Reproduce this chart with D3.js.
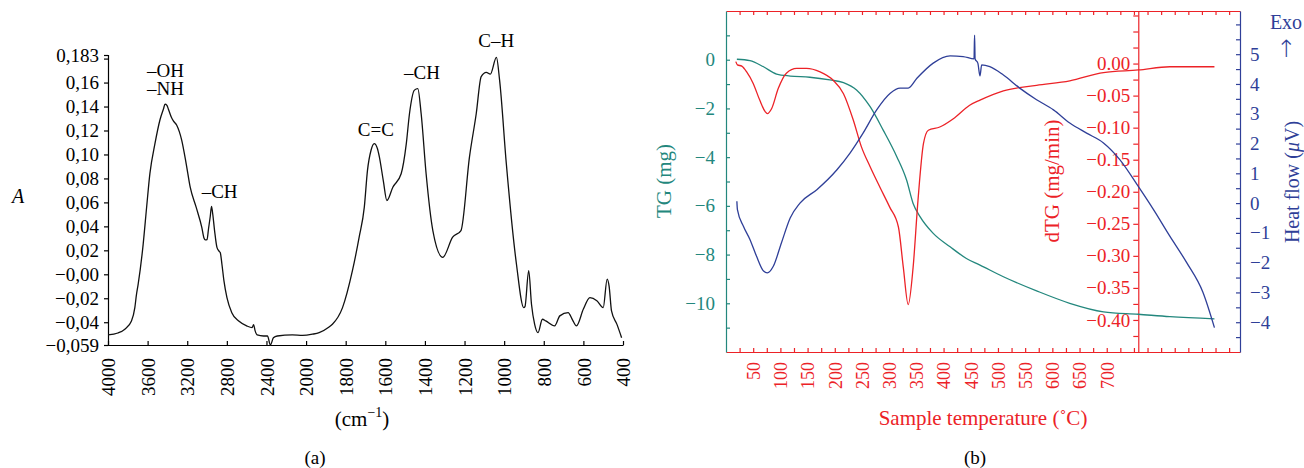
<!DOCTYPE html>
<html>
<head>
<meta charset="utf-8">
<script src="https://cdn.jsdelivr.net/npm/d3@7"></script>
<style>
body { margin: 0; background: #fff; }
svg { display: block; font-family: "Liberation Serif", "Times New Roman", serif; }
</style>
</head>
<body>
<svg id="chart" width="1304" height="468"></svg>
<script>
/* (a) FTIR spectrum */
var ftir_wavenumber = [4000, 3900, 3830, 3763, 3729, 3712, 3695, 3645, 3610, 3577, 3526, 3475, 3440, 3424, 3405,
    3391, 3360, 3340, 3306, 3256, 3210, 3170, 3110, 3053, 3030, 3018, 3000, 2985, 2968, 2955, 2945, 2924, 2900,
    2875, 2866, 2850, 2830, 2799, 2750, 2680, 2600, 2545, 2530, 2515, 2494, 2430, 2390, 2360, 2330, 2291, 2139,
    2035, 1968, 1934, 1884, 1867, 1816, 1766, 1732, 1706, 1690, 1672, 1656, 1640, 1630, 1610, 1592, 1562, 1520,
    1494, 1478, 1453, 1436, 1419, 1394, 1360, 1310, 1260, 1218, 1175, 1141, 1116, 1090, 1070, 1039, 1023, 989,
    938, 901, 895, 876, 862, 846, 829, 807, 790, 745, 719, 677, 655, 635, 600, 567, 532, 500, 480, 470, 458, 430, 407];
var ftir_absorbance = [-0.0506, -0.0490, -0.0458, -0.0390, -0.0278, -0.0165, -0.0080, 0.0250, 0.0560, 0.0840,
    0.1090, 0.1290, 0.1380, 0.1420, 0.1410, 0.1380, 0.1310, 0.1280, 0.1244, 0.1120, 0.0920, 0.0727, 0.0560,
    0.0392, 0.0300, 0.0287, 0.0290, 0.0380, 0.0480, 0.0566, 0.0520, 0.0365, 0.0225, 0.0190, 0.0180, 0.0086,
    -0.0050, -0.0194, -0.0320, -0.0390, -0.0430, -0.0445, -0.0420, -0.0470, -0.0506, -0.0515, -0.0515, -0.0590,
    -0.0530, -0.0515, -0.0506, -0.0510, -0.0500, -0.0487, -0.0440, -0.0417, -0.0278, 0.0030, 0.0310, 0.0560,
    0.0867, 0.1035, 0.1090, 0.1050, 0.0980, 0.0780, 0.0616, 0.0727, 0.0839, 0.1090, 0.1340, 0.1537, 0.1550,
    0.1340, 0.0839, 0.0365, 0.0142, 0.0310, 0.0365, 0.0980, 0.1340, 0.1650, 0.1685, 0.1670, 0.1810, 0.1620,
    0.0922, 0.0086, -0.0278, -0.0270, 0.0030, -0.0250, -0.0417, -0.0487, -0.0375, -0.0389, -0.0430, -0.0347,
    -0.0320, -0.0380, -0.0430, -0.0290, -0.0194, -0.0220, -0.0278, -0.0040, -0.0100, -0.0306, -0.0420, -0.0529];
var wn_ticks = [4000, 3600, 3200, 2800, 2400, 2000, 1800, 1600, 1400, 1200, 1000, 800, 600, 400];
var abs_ticks = [-0.059, -0.04, -0.02, 0, 0.02, 0.04, 0.06, 0.08, 0.10, 0.12, 0.14, 0.16, 0.18, 0.183];
var abs_tick_labels = ["\u22120,059", "\u22120,04", "\u22120,02", "\u22120,00", "0,02", "0,04", "0,06", "0,08",
    "0,10", "0,12", "0,14", "0,16", "", "0,183"];
var peak_names = ["\u2013OH", "\u2013NH", "\u2013CH", "C=C", "\u2013CH", "C\u2013H"];
var peak_wn = [3420, 3420, 2873, 1648, 1415, 1040];
var peak_abs = [0.1650, 0.1495, 0.0633, 0.1152, 0.1630, 0.1897];

/* (b) thermal analysis */
var tg_temp = [20, 44, 69, 93, 118, 154, 191, 216, 240, 265, 289, 314, 332, 344, 357, 381, 412, 442, 467, 510,
    571, 632, 694, 758, 816, 898];
var tg_mass = [0.02, -0.04, -0.29, -0.59, -0.67, -0.72, -0.83, -0.94, -1.24, -1.93, -2.89, -3.98, -4.94, -5.9,
    -6.45, -7.13, -7.68, -8.16, -8.43, -8.91, -9.49, -10.0, -10.35, -10.45, -10.55, -10.64];
var dtg_temp = [18, 21, 29, 38, 50, 62, 72, 76, 84, 96, 111, 130, 148, 173, 197, 216, 234, 249, 265, 283, 301,
    317, 326, 335, 344, 353, 363, 372, 393, 418, 448, 467, 510, 571, 632, 694, 758, 816, 898];
var dtg_rate = [0.003, -0.002, -0.004, -0.013, -0.031, -0.057, -0.075, -0.078, -0.070, -0.039, -0.015, -0.0075,
    -0.0075, -0.013, -0.026, -0.047, -0.088, -0.13, -0.161, -0.193, -0.224, -0.255, -0.318, -0.376, -0.318,
    -0.213, -0.125, -0.104, -0.099, -0.086, -0.065, -0.057, -0.0425, -0.034, -0.027, -0.014, -0.010, -0.005, -0.005];
var hf_temp = [20, 21, 32, 44, 56, 69, 76, 87, 102, 118, 136, 167, 204, 228, 252, 277, 302, 320, 335, 351, 381,
    412, 436, 456, 457, 458, 463, 467, 470, 485, 510, 540, 571, 602, 632, 663, 694, 724, 758, 786, 816, 847, 877, 898];
var hf_signal = [0.06, -0.22, -0.78, -1.22, -1.78, -2.28, -2.34, -2.12, -1.33, -0.5, 0.0, 0.45, 1.12, 1.68, 2.35,
    3.13, 3.69, 3.86, 3.86, 4.19, 4.70, 4.94, 4.92, 4.84, 5.64, 4.84, 4.70, 4.27, 4.64, 4.58, 4.30, 3.86, 3.47,
    3.13, 2.69, 2.35, 2.02, 1.46, 0.56, -0.22, -1.11, -2.0, -3.0, -4.18];
var temp_labels = [50, 100, 150, 200, 250, 300, 350, 400, 450, 500, 550, 600, 650, 700];
var tg_labels = [0, -2, -4, -6, -8, -10];
var dtg_labels = [0, -0.05, -0.10, -0.15, -0.20, -0.25, -0.30, -0.35, -0.40];
var hf_labels = [5, 4, 3, 2, 1, 0, -1, -2, -3, -4];
var dtg_axis_temp = 758;

var teal = "#23877d";
var red = "#ec2227";
var blue = "#2f3f98";

var svg = d3.select("#chart");
svg.append("rect").attr("width", 1304).attr("height", 468).attr("fill", "#fff");

function style_axis(g, colour, size) {
    g.attr("font-family", null).attr("font-size", size);
    g.selectAll("path, line").attr("stroke", colour).attr("stroke-width", 1.2);
    g.selectAll("text").attr("fill", colour);
}

/* ---------- panel (a) ---------- */
var ftir_step = (623 - 108) / 13;
var xA = d3.scaleLinear().domain([4000, 2000, 400]).range([108, 108 + 5 * ftir_step, 623]);
var yA = d3.scaleLinear().domain([-0.059, 0.183]).range([345, 55]);

var ax_left = svg.append("g").attr("transform", "translate(108,0)")
    .call(d3.axisLeft(yA).tickValues(abs_ticks).tickSizeOuter(0).tickSize(4).tickPadding(5)
        .tickFormat(function (d, i) { return abs_tick_labels[i]; }));
style_axis(ax_left, "#000", 19);

var ax_bottom = svg.append("g").attr("transform", "translate(0,345)")
    .call(d3.axisBottom(xA).tickValues(wn_ticks).tickSizeInner(-4).tickSizeOuter(0).tickFormat(d3.format("d")));
style_axis(ax_bottom, "#000", 19);
ax_bottom.selectAll("text").attr("transform", "rotate(-90)").attr("x", -13).attr("y", 0)
    .attr("dy", "0.35em").attr("text-anchor", "end");

var ftir_line = d3.line()
    .x(function (d) { return xA(ftir_wavenumber[d]); })
    .y(function (d) { return yA(ftir_absorbance[d]); })
    .curve(d3.curveMonotoneX);
svg.append("path").datum(d3.range(ftir_wavenumber.length)).attr("d", ftir_line)
    .attr("fill", "none").attr("stroke", "#111").attr("stroke-width", 1.3);

svg.selectAll("text.peak").data(peak_names).enter().append("text").attr("class", "peak")
    .attr("x", function (d, i) { return xA(peak_wn[i]); })
    .attr("y", function (d, i) { return yA(peak_abs[i]); })
    .attr("text-anchor", "middle").attr("font-size", 19).text(function (d) { return d; });

svg.append("text").attr("x", 18).attr("y", 203).attr("font-size", 20).attr("font-style", "italic")
    .attr("text-anchor", "middle").text("A");
var cm = svg.append("text").attr("x", 362).attr("y", 426).attr("font-size", 21).attr("text-anchor", "middle");
cm.append("tspan").text("(cm");
cm.append("tspan").attr("font-size", 14).attr("dy", -9).text("\u22121");
cm.append("tspan").attr("dy", 9).text(")");
svg.append("text").attr("x", 315).attr("y", 464).attr("font-size", 19).attr("text-anchor", "middle").text("(a)");

/* ---------- panel (b) ---------- */
var xB = d3.scaleLinear().domain([0, 945]).range([726, 1240]);
var yTG = d3.scaleLinear().domain([-12, 2]).range([352, 11]);
var yDTG = d3.scaleLinear().domain([-0.45, 0.082]).range([352, 11]);
var yHF = d3.scaleLinear().domain([-5, 6.45]).range([352, 11]);
var temp_ticks = d3.range(25, 945, 25);

var ax_top = svg.append("g").attr("transform", "translate(0,11)")
    .call(d3.axisTop(xB).tickValues(temp_ticks).tickSizeInner(-4).tickSizeOuter(0).tickFormat(""));
style_axis(ax_top, red, 18);

var ax_temp = svg.append("g").attr("transform", "translate(0,352)")
    .call(d3.axisBottom(xB).tickValues(temp_ticks).tickSizeInner(-4).tickSizeOuter(0)
        .tickFormat(function (d) { return temp_labels.indexOf(d) >= 0 ? d : ""; }));
style_axis(ax_temp, red, 18);
ax_temp.selectAll("text").attr("transform", "rotate(-90)").attr("x", -10).attr("y", 0)
    .attr("dy", "0.35em").attr("text-anchor", "end");

var ax_tg = svg.append("g").attr("transform", "translate(726,0)")
    .call(d3.axisLeft(yTG).tickValues(d3.range(-11, 2, 1)).tickSizeInner(-4).tickSizeOuter(0).tickPadding(11)
        .tickFormat(function (d) { return tg_labels.indexOf(d) >= 0 ? d3.format("d")(d) : ""; }));
style_axis(ax_tg, teal, 19);

var dtg_x = xB(dtg_axis_temp);
var ax_dtg = svg.append("g").attr("transform", "translate(" + dtg_x + ",0)")
    .call(d3.axisLeft(yDTG).tickValues(d3.range(-0.425, 0.08, 0.025)).tickSizeInner(5).tickSizeOuter(0).tickPadding(3)
        .tickFormat(function (d) {
            var hit = dtg_labels.some(function (v) { return Math.abs(v - d) < 1e-6; });
            return hit ? d3.format(".2f")(Math.abs(d) < 1e-6 ? 0 : d) : "";
        }));
style_axis(ax_dtg, red, 19);

var ax_hf = svg.append("g").attr("transform", "translate(1240,0)")
    .call(d3.axisRight(yHF).tickValues(d3.range(-4.5, 6.1, 0.5)).tickSizeInner(-4).tickSizeOuter(0).tickPadding(10)
        .tickFormat(function (d) { return hf_labels.indexOf(d) >= 0 ? d3.format("d")(d) : ""; }));
style_axis(ax_hf, blue, 19);

var tg_line = d3.line()
    .x(function (d) { return xB(tg_temp[d]); })
    .y(function (d) { return yTG(tg_mass[d]); })
    .curve(d3.curveMonotoneX);
svg.append("path").datum(d3.range(tg_temp.length)).attr("d", tg_line)
    .attr("fill", "none").attr("stroke", teal).attr("stroke-width", 1.3);

var dtg_line = d3.line()
    .x(function (d) { return xB(dtg_temp[d]); })
    .y(function (d) { return yDTG(dtg_rate[d]); })
    .curve(d3.curveMonotoneX);
svg.append("path").datum(d3.range(dtg_temp.length)).attr("d", dtg_line)
    .attr("fill", "none").attr("stroke", red).attr("stroke-width", 1.3);

var hf_line = d3.line()
    .x(function (d) { return xB(hf_temp[d]); })
    .y(function (d) { return yHF(hf_signal[d]); })
    .curve(d3.curveMonotoneX);
svg.append("path").datum(d3.range(hf_temp.length)).attr("d", hf_line)
    .attr("fill", "none").attr("stroke", blue).attr("stroke-width", 1.3);

svg.append("text").attr("transform", "translate(671,181) rotate(-90)").attr("text-anchor", "middle")
    .attr("font-size", 21).attr("fill", teal).text("TG (mg)");
svg.append("text").attr("transform", "translate(1059,181) rotate(-90)").attr("text-anchor", "middle")
    .attr("font-size", 21).attr("fill", red).text("dTG (mg/min)");
var hf_title = svg.append("text").attr("transform", "translate(1299,182) rotate(-90)").attr("text-anchor", "middle")
    .attr("font-size", 20).attr("fill", blue);
hf_title.append("tspan").text("Heat flow (");
hf_title.append("tspan").attr("font-style", "italic").text("\u03bc");
hf_title.append("tspan").text("V)");
svg.append("text").attr("x", 1286).attr("y", 29).attr("text-anchor", "middle")
    .attr("font-size", 20).attr("fill", blue).text("Exo");
svg.append("text").attr("x", 1286).attr("y", 57).attr("text-anchor", "middle")
    .attr("font-family", "DejaVu Sans").attr("font-weight", 300).attr("font-size", 24).attr("fill", blue).text("\u2191");
svg.append("text").attr("x", 983).attr("y", 425).attr("text-anchor", "middle")
    .attr("font-size", 21).attr("fill", red).text("Sample temperature (\u02daC)");
svg.append("text").attr("x", 975).attr("y", 464).attr("font-size", 19).attr("text-anchor", "middle").text("(b)");
</script>
</body>
</html>
